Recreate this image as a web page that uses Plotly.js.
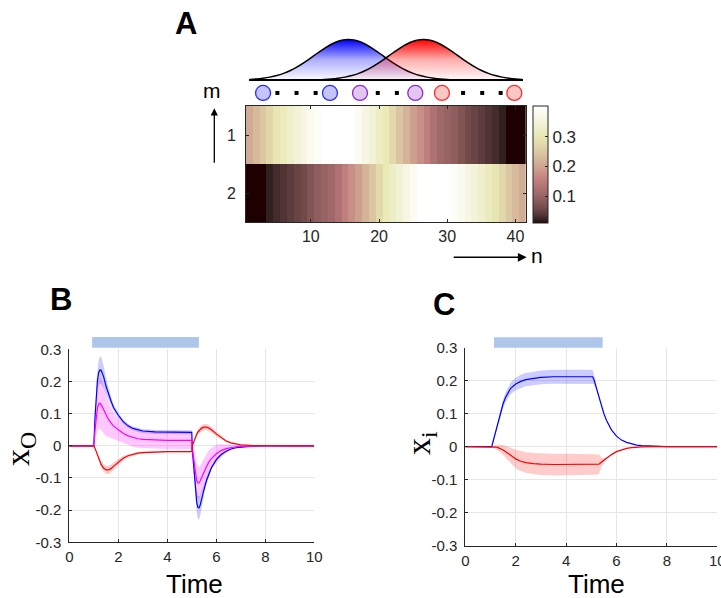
<!DOCTYPE html>
<html><head><meta charset="utf-8">
<script src="https://cdn.plot.ly/plotly-3.0.1.min.js"></script>
<style>html,body{margin:0;padding:0;background:#fff;}#chart{width:721px;height:598px;}</style>
</head><body><div id="chart"></div>
<script>
// ===== Panel A data =====
const nIndex = [1,2,3,4,5,6,7,8,9,10,11,12,13,14,15,16,17,18,19,20,21,22,23,24,25,26,27,28,29,30,31,32,33,34,35,36,37,38,39,40,41];
const mIndex = [1, 2];
const tuningRow1 = [0.21,0.23,0.25,0.275,0.30,0.315,0.335,0.35,0.365,0.38,0.395,0.41,0.415,0.415,0.415,0.41,0.385,0.365,0.345,0.325,0.31,0.28,0.245,0.22,0.195,0.175,0.155,0.13,0.11,0.10,0.09,0.076,0.06,0.053,0.044,0.035,0.029,0.02,0.008,0.006,0.005];
const tuningRow2 = [0.005,0.006,0.008,0.02,0.029,0.035,0.044,0.053,0.06,0.076,0.09,0.10,0.11,0.13,0.155,0.175,0.195,0.22,0.245,0.28,0.31,0.325,0.345,0.365,0.385,0.41,0.415,0.415,0.415,0.41,0.395,0.38,0.365,0.35,0.335,0.315,0.30,0.275,0.25,0.23,0.21];
const heatRange = [0.01, 0.405];
const heatTicks = [10, 20, 30, 40];
const colorbarTicks = [0.1, 0.2, 0.3];
const colorbarTickText = ['0.1', '0.2', '0.3'];
const gaussBlue = [0.015,0.026,0.044,0.071,0.110,0.165,0.236,0.325,0.430,0.546,0.667,0.783,0.883,0.956,0.995,0.995,0.956,0.883,0.783,0.667,0.546,0.430,0.325,0.236,0.165,0.110,0.071,0.044,0.026,0.015,0.008,0.004,0.002,0.001,0.0005,0,0,0,0,0,0];
const gaussRed = [0,0,0,0,0,0,0.0005,0.001,0.002,0.004,0.008,0.015,0.026,0.044,0.071,0.110,0.165,0.236,0.325,0.430,0.546,0.667,0.783,0.883,0.956,0.995,0.995,0.956,0.883,0.783,0.667,0.546,0.430,0.325,0.236,0.165,0.110,0.071,0.044,0.026,0.015];
const circleN = [3.0, 12.8, 17.2, 25.3, 29.2, 39.8];
const circleGroup = ['blue','blue','purple','purple','red','red'];
const dotN = [5.1, 7.9, 10.7, 19.8, 22.6, 32.3, 35.1, 37.8];

// ===== Panel B data =====
const timeB = [0,0.5,1.0,1.05,1.1,1.15,1.2,1.25,1.3,1.4,1.5,1.6,1.7,1.8,2.0,2.2,2.4,2.6,2.8,3.0,3.5,4.0,4.5,5.0,5.02,5.1,5.15,5.2,5.25,5.3,5.35,5.4,5.5,5.6,5.7,5.8,6.0,6.2,6.4,6.6,6.8,7.0,7.5,8.0,9.0,10.0];
const xoBlue = [0,0,0,0.09,0.16,0.205,0.228,0.236,0.235,0.215,0.185,0.16,0.14,0.12,0.095,0.075,0.062,0.054,0.049,0.046,0.043,0.042,0.042,0.042,-0.01,-0.09,-0.14,-0.175,-0.192,-0.193,-0.182,-0.165,-0.135,-0.108,-0.085,-0.068,-0.043,-0.027,-0.017,-0.01,-0.006,-0.004,-0.001,0,0,0];
const xoBlueErr = [0,0,0,0.01,0.02,0.03,0.038,0.042,0.042,0.035,0.025,0.018,0.013,0.01,0.008,0.007,0.006,0.006,0.006,0.006,0.006,0.006,0.006,0.006,0.006,0.015,0.025,0.032,0.036,0.036,0.032,0.026,0.018,0.012,0.008,0.006,0.004,0.003,0.002,0.001,0.001,0,0,0,0,0];
const xoMagenta = [0,0,0,0.05,0.09,0.118,0.13,0.132,0.128,0.112,0.095,0.082,0.071,0.062,0.05,0.039,0.031,0.026,0.022,0.02,0.018,0.017,0.017,0.017,-0.01,-0.06,-0.09,-0.108,-0.116,-0.115,-0.108,-0.098,-0.08,-0.064,-0.05,-0.04,-0.025,-0.015,-0.009,-0.005,-0.003,-0.002,0,0,0,0];
const xoMagentaErr = [0,0,0,0.03,0.055,0.07,0.078,0.08,0.08,0.075,0.065,0.055,0.047,0.042,0.036,0.032,0.03,0.029,0.028,0.027,0.027,0.027,0.027,0.027,0.03,0.045,0.05,0.052,0.052,0.05,0.047,0.044,0.042,0.04,0.037,0.033,0.028,0.02,0.013,0.008,0.005,0.003,0,0,0,0];
const xoRed = [0,0,0,-0.008,-0.018,-0.029,-0.04,-0.05,-0.058,-0.069,-0.075,-0.075,-0.071,-0.064,-0.05,-0.039,-0.031,-0.026,-0.023,-0.021,-0.019,-0.018,-0.018,-0.018,0.0,0.018,0.027,0.036,0.043,0.048,0.052,0.055,0.058,0.058,0.055,0.05,0.037,0.025,0.015,0.009,0.005,0.003,0.001,0,0,0];
const xoRedErr = [0,0,0,0.002,0.004,0.006,0.008,0.01,0.011,0.012,0.013,0.013,0.012,0.011,0.009,0.007,0.005,0.004,0.003,0.003,0.002,0.002,0.002,0.002,0.002,0.004,0.006,0.007,0.008,0.009,0.01,0.01,0.01,0.01,0.01,0.009,0.007,0.005,0.003,0.002,0.001,0.001,0,0,0,0];
const stimB = [0.93, 5.29];

// ===== Panel C data =====
const timeC = [0,0.5,1.0,1.05,1.1,1.2,1.3,1.4,1.5,1.6,1.7,1.8,2.0,2.2,2.4,2.7,3.0,3.5,4.0,4.5,5.0,5.05,5.1,5.2,5.3,5.4,5.5,5.6,5.7,5.8,6.0,6.2,6.4,6.6,6.8,7.0,7.5,8.0,9.0,10.0];
const xiBlue = [0,0,0,0,0.015,0.045,0.076,0.105,0.13,0.15,0.165,0.177,0.19,0.198,0.203,0.207,0.21,0.212,0.212,0.212,0.212,0.212,0.205,0.178,0.15,0.123,0.1,0.08,0.064,0.051,0.032,0.02,0.013,0.008,0.005,0.003,0.001,0,0,0];
const xiBlueErr = [0,0,0,0,0.002,0.005,0.008,0.011,0.013,0.015,0.017,0.018,0.019,0.02,0.02,0.021,0.021,0.021,0.021,0.021,0.021,0.021,0.015,0.006,0.002,0.001,0,0,0,0,0,0,0,0,0,0,0,0,0,0];
const xiRed = [0,0,0,0,0,-0.001,-0.003,-0.006,-0.01,-0.015,-0.021,-0.027,-0.037,-0.044,-0.048,-0.051,-0.053,-0.054,-0.054,-0.054,-0.054,-0.054,-0.054,-0.054,-0.053,-0.047,-0.041,-0.035,-0.029,-0.024,-0.015,-0.009,-0.005,-0.003,-0.001,-0.0005,0,0,0,0];
const xiRedErr = [0,0,0,0,0.002,0.006,0.009,0.012,0.015,0.018,0.021,0.024,0.028,0.03,0.031,0.032,0.033,0.033,0.033,0.033,0.033,0.032,0.031,0.03,0.03,0.015,0.006,0.003,0.001,0,0,0,0,0,0,0,0,0,0,0];
const stimC = [1.14, 5.45];

const timeTicks = [0, 2, 4, 6, 8, 10];
const valueTicks = [-0.3, -0.2, -0.1, 0, 0.1, 0.2, 0.3];
const valueTickText = ['-0.3', '-0.2', '-0.1', '0', '0.1', '0.2', '0.3'];

// ===== styles =====
const INK = '#262626';
const GRID = '#e6e6e6';
const sans = 'Liberation Sans, Arial, sans-serif';
const serif = 'Liberation Serif, Times New Roman, serif';
const TICKFONT = {family: sans, size: 15, color: INK};
const pinkScale = [[0,'rgb(30,0,0)'],[0.02,'rgb(45,29,29)'],[0.0625,'rgb(80,52,52)'],[0.125,'rgb(112,74,74)'],[0.1875,'rgb(138,90,90)'],[0.25,'rgb(159,104,104)'],[0.3125,'rgb(178,116,116)'],[0.375,'rgb(195,128,128)'],[0.4375,'rgb(202,150,138)'],[0.5,'rgb(208,170,147)'],[0.5625,'rgb(215,188,156)'],[0.625,'rgb(221,204,165)'],[0.6875,'rgb(227,219,173)'],[0.75,'rgb(233,233,180)'],[0.8125,'rgb(238,238,202)'],[0.875,'rgb(244,244,221)'],[0.9375,'rgb(250,250,238)'],[1,'rgb(255,255,255)']];
const circleFill = {blue: '#c4c4fb', purple: '#e2c6f0', red: '#fbc6c6'};
const circleEdge = {blue: '#2a2aff', purple: '#8a2bd0', red: '#ff2a2a'};
const CIRCLE_ROW_Y = -0.32;

function band(x, mean, err, fillColor, xa, ya) {
  return [
    {x: x, y: mean.map((v, i) => v + err[i]), xaxis: xa, yaxis: ya, mode: 'lines',
     line: {width: 0, color: 'rgba(0,0,0,0)'}, hoverinfo: 'skip', showlegend: false},
    {x: x, y: mean.map((v, i) => v - err[i]), xaxis: xa, yaxis: ya, mode: 'lines',
     line: {width: 0, color: 'rgba(0,0,0,0)'}, fill: 'tonexty', fillcolor: fillColor,
     hoverinfo: 'skip', showlegend: false}
  ];
}
function line(x, y, color, xa, ya) {
  return {x: x, y: y, xaxis: xa, yaxis: ya, mode: 'lines', line: {color: color, width: 1.2},
          showlegend: false, hoverinfo: 'skip'};
}

const traces = [];
// Panel A: gaussians
traces.push({x: nIndex, y: gaussBlue, xaxis: 'x3', yaxis: 'y3', mode: 'lines',
  line: {color: '#000', width: 1.5, shape: 'spline'}, fill: 'tozeroy',
  fillgradient: {type: 'vertical', start: 0, stop: 1,
    colorscale: [[0,'rgba(0,0,255,0.02)'],[0.5,'rgba(0,0,255,0.32)'],[1,'rgba(0,0,255,1)']]},
  showlegend: false, hoverinfo: 'skip'});
traces.push({x: nIndex, y: gaussRed, xaxis: 'x3', yaxis: 'y3', mode: 'lines',
  line: {color: '#000', width: 1.5, shape: 'spline'}, fill: 'tozeroy',
  fillgradient: {type: 'vertical', start: 0, stop: 1,
    colorscale: [[0,'rgba(255,0,0,0.02)'],[0.5,'rgba(255,0,0,0.32)'],[1,'rgba(255,0,0,1)']]},
  showlegend: false, hoverinfo: 'skip'});
traces.push({x: circleN, y: circleN.map(() => CIRCLE_ROW_Y), xaxis: 'x3', yaxis: 'y3', mode: 'markers',
  marker: {size: 15, color: circleGroup.map(g => circleFill[g]),
           line: {color: circleGroup.map(g => circleEdge[g]), width: 1.3}},
  cliponaxis: false, showlegend: false, hoverinfo: 'skip'});
traces.push({x: dotN, y: dotN.map(() => CIRCLE_ROW_Y), xaxis: 'x3', yaxis: 'y3', mode: 'markers',
  marker: {size: 4, symbol: 'square', color: '#000'}, cliponaxis: false, showlegend: false, hoverinfo: 'skip'});
// heatmap
traces.push({type: 'heatmap', x: nIndex, y: mIndex, z: [tuningRow1, tuningRow2], xaxis: 'x2', yaxis: 'y2',
  zmin: heatRange[0], zmax: heatRange[1], colorscale: pinkScale, hoverinfo: 'skip',
  colorbar: {x: 533/721, xanchor: 'left', y: 1 - 164.3/598, yanchor: 'middle', len: 116.7/598, lenmode: 'fraction',
    thickness: 15, thicknessmode: 'pixels', xpad: 0, ypad: 0, outlinewidth: 1, outlinecolor: INK,
    tickvals: colorbarTicks, ticktext: colorbarTickText, ticks: 'inside', ticklen: 3, tickcolor: INK,
    tickfont: {family: sans, size: 17, color: INK}}});

// Panel B
traces.push(...band(timeB, xoBlue, xoBlueErr, 'rgba(0,0,255,0.2)', 'x', 'y'));
traces.push(...band(timeB, xoMagenta, xoMagentaErr, 'rgba(255,0,255,0.22)', 'x', 'y'));
traces.push(...band(timeB, xoRed, xoRedErr, 'rgba(255,0,0,0.2)', 'x', 'y'));
traces.push(line(timeB, xoBlue, '#0000ff', 'x', 'y'));
traces.push(line(timeB, xoMagenta, '#ff00ff', 'x', 'y'));
traces.push(line(timeB, xoRed, '#ff0000', 'x', 'y'));
// Panel C
traces.push(...band(timeC, xiBlue, xiBlueErr, 'rgba(0,0,255,0.2)', 'x4', 'y4'));
traces.push(...band(timeC, xiRed, xiRedErr, 'rgba(255,0,0,0.2)', 'x4', 'y4'));
traces.push(line(timeC, xiBlue, '#0000ff', 'x4', 'y4'));
traces.push(line(timeC, xiRed, '#ff0000', 'x4', 'y4'));

function timeAxis(domain, anchor) {
  return {domain: domain, anchor: anchor, range: [0, 10], tickvals: timeTicks, ticktext: timeTicks.map(String),
    ticks: 'inside', ticklen: 3, tickcolor: INK, showline: true, linecolor: INK, linewidth: 1,
    showgrid: true, gridcolor: GRID, gridwidth: 1, zeroline: false, tickfont: TICKFONT, ticklabelstandoff: 1,
    ticklabeloverflow: 'allow'};
}
function valueAxis(domain, anchor) {
  return {domain: domain, anchor: anchor, range: [-0.3, 0.3], tickvals: valueTicks, ticktext: valueTickText,
    ticks: 'inside', ticklen: 3, tickcolor: INK, showline: true, linecolor: INK, linewidth: 1,
    showgrid: true, gridcolor: GRID, gridwidth: 1, zeroline: false, tickfont: TICKFONT, ticklabelstandoff: 4};
}

const layout = {
  width: 721, height: 598, margin: {l: 0, r: 0, t: 0, b: 0},
  paper_bgcolor: '#fff', plot_bgcolor: '#fff', showlegend: false,
  font: {family: sans, color: INK, size: 14},
  xaxis: timeAxis([69.3/721, 314.3/721], 'y'),
  yaxis: valueAxis([1 - 542.3/598, 1 - 349.3/598], 'x'),
  xaxis4: timeAxis([465.3/721, 717.3/721], 'y4'),
  yaxis4: valueAxis([1 - 545.7/598, 1 - 347.7/598], 'x4'),
  xaxis2: {domain: [246/721, 525.7/721], anchor: 'y2', range: [0.5, 41.5], tickvals: heatTicks, ticktext: heatTicks.map(String),
    ticks: 'inside', ticklen: 3, tickcolor: INK, showline: true, mirror: 'ticks', linecolor: INK, linewidth: 1,
    showgrid: false, zeroline: false, tickfont: {family: sans, size: 16, color: INK}, ticklabelstandoff: 0},
  yaxis2: {domain: [1 - 222/598, 1 - 106/598], anchor: 'x2', range: [2.5, 0.5], tickvals: mIndex, ticktext: mIndex.map(String),
    ticks: 'inside', ticklen: 3, tickcolor: INK, showline: true, mirror: 'ticks', linecolor: INK, linewidth: 1,
    showgrid: false, zeroline: false, tickfont: {family: sans, size: 16, color: INK}, ticklabelstandoff: 6},
  xaxis3: {domain: [249.4/721, 522.5/721], anchor: 'y3', range: [1, 41], visible: false},
  yaxis3: {domain: [1 - 100.25/598, 1 - 37.5/598], anchor: 'x3', range: [-0.5, 1.05],
    showticklabels: false, showgrid: false, showline: false, ticks: '',
    zeroline: true, zerolinecolor: '#000', zerolinewidth: 2.5},
  shapes: [
    {type: 'rect', xref: 'x', yref: 'y domain', x0: stimB[0], x1: stimB[1], y0: 1.008, y1: 1.064,
     fillcolor: '#aec6ea', line: {width: 0}},
    {type: 'rect', xref: 'x4', yref: 'y4 domain', x0: stimC[0], x1: stimC[1], y0: 1.0, y1: 1.0525,
     fillcolor: '#aec6ea', line: {width: 0}}
  ],
  annotations: [
    {text: '<b>A</b>', x: 185.7/721, y: 1 - 23.3/598, xref: 'paper', yref: 'paper', showarrow: false,
     font: {family: sans, size: 31, color: '#000'}, xanchor: 'center', yanchor: 'middle'},
    {text: '<b>B</b>', x: 60.5/721, y: 1 - 299.5/598, xref: 'paper', yref: 'paper', showarrow: false,
     font: {family: sans, size: 31, color: '#000'}, xanchor: 'center', yanchor: 'middle'},
    {text: '<b>C</b>', x: 444/721, y: 1 - 304/598, xref: 'paper', yref: 'paper', showarrow: false,
     font: {family: sans, size: 31, color: '#000'}, xanchor: 'center', yanchor: 'middle'},
    {text: 'm', x: 211.7/721, y: 1 - 90/598, xref: 'paper', yref: 'paper', showarrow: false,
     font: {family: sans, size: 21, color: '#000'}, xanchor: 'center', yanchor: 'middle'},
    {text: 'n', x: 536.7/721, y: 1 - 255/598, xref: 'paper', yref: 'paper', showarrow: false,
     font: {family: sans, size: 21, color: '#000'}, xanchor: 'center', yanchor: 'middle'},
    {text: ' ', x: 214.3/721, y: 1 - 108.3/598, xref: 'paper', yref: 'paper', axref: 'pixel', ayref: 'pixel',
     ax: 0, ay: 57, showarrow: true, arrowhead: 2, arrowsize: 1.1, arrowwidth: 1.3, arrowcolor: '#000', standoff: 0,
     font: {size: 2}},
    {text: ' ', x: 526.7/721, y: 1 - 257.3/598, xref: 'paper', yref: 'paper', axref: 'pixel', ayref: 'pixel',
     ax: -75, ay: 0, showarrow: true, arrowhead: 2, arrowsize: 1.1, arrowwidth: 1.6, arrowcolor: '#000', standoff: 0,
     font: {size: 2}},
    {text: 'Time', x: 194/721, y: 1 - 584/598, xref: 'paper', yref: 'paper', showarrow: false,
     font: {family: sans, size: 26, color: '#000'}, xanchor: 'center', yanchor: 'middle', borderpad: 0},
    {text: 'Time', x: 596/721, y: 1 - 584/598, xref: 'paper', yref: 'paper', showarrow: false,
     font: {family: sans, size: 26, color: '#000'}, xanchor: 'center', yanchor: 'middle', borderpad: 0},
    {text: 'x<sub>O</sub>', x: 20/721, y: 1 - 449/598, xref: 'paper', yref: 'paper', showarrow: false, textangle: -90,
     font: {family: serif, size: 34, color: '#000'}, xanchor: 'center', yanchor: 'middle'},
    {text: 'x<sub>i</sub>', x: 421/721, y: 1 - 443/598, xref: 'paper', yref: 'paper', showarrow: false, textangle: -90,
     font: {family: serif, size: 34, color: '#000'}, xanchor: 'center', yanchor: 'middle'}
  ]
};

Plotly.newPlot('chart', traces, layout, {displayModeBar: false, staticPlot: true});
</script>
</body></html>
